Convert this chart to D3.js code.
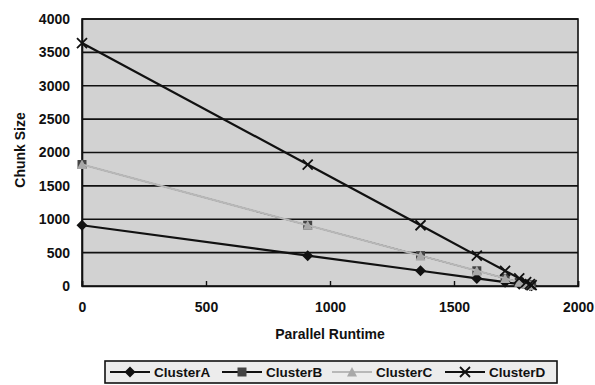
<!DOCTYPE html>
<html>
<head>
<meta charset="utf-8">
<script src="https://cdn.jsdelivr.net/npm/d3@7/dist/d3.min.js"></script>
<style>
  html, body { margin: 0; padding: 0; background: #fff; }
  svg { display: block; font-family: "Liberation Sans", Arial, sans-serif; }
</style>
</head>
<body>
<svg id="chart" width="595" height="385"></svg>
<script>
// Parallel runtime at each step (shared by all clusters)
const runtime = [0, 910, 1365, 1592, 1706, 1763, 1791, 1806, 1813];
// Chunk size per cluster
const clusterA = [910, 455, 228, 114, 57, 28, 14, 7, 4];
const clusterB = [1820, 910, 455, 228, 114, 57, 28, 14, 7];
const clusterC = [1820, 910, 455, 228, 114, 57, 28, 14, 7];
const clusterD = [3640, 1820, 910, 455, 228, 114, 57, 28, 14];
const seriesNames = ["ClusterA", "ClusterB", "ClusterC", "ClusterD"];
const xTicks = [0, 500, 1000, 1500, 2000];
const yTicks = [0, 500, 1000, 1500, 2000, 2500, 3000, 3500, 4000];

const svg = d3.select("#chart");
const m = { left: 82, right: 578, top: 19, bottom: 286 };
const ink = "#111";

const x = d3.scaleLinear().domain([0, 2000]).range([m.left, m.right]);
const y = d3.scaleLinear().domain([0, 4000]).range([m.bottom, m.top]);

// plot area
svg.append("rect")
  .attr("x", m.left).attr("y", m.top)
  .attr("width", m.right - m.left).attr("height", m.bottom - m.top)
  .attr("fill", "#d2d2d2");

// horizontal gridlines
svg.append("g").selectAll("line").data(yTicks.slice(1)).join("line")
  .attr("x1", m.left).attr("x2", m.right)
  .attr("y1", d => y(d)).attr("y2", d => y(d))
  .attr("stroke", ink).attr("stroke-width", 1.6);

// plot border
svg.append("rect")
  .attr("x", m.left).attr("y", m.top)
  .attr("width", m.right - m.left).attr("height", m.bottom - m.top)
  .attr("fill", "none").attr("stroke", ink).attr("stroke-width", 1.6);

// axes
const xAxis = svg.append("g").attr("transform", `translate(0,${m.bottom})`)
  .call(d3.axisBottom(x).tickValues(xTicks).tickSize(-5).tickPadding(16).tickFormat(d3.format("d")));
const yAxis = svg.append("g").attr("transform", `translate(${m.left},0)`)
  .call(d3.axisLeft(y).tickValues(yTicks).tickSize(0).tickPadding(12).tickFormat(d3.format("d")));
[xAxis, yAxis].forEach(a => {
  a.select(".domain").attr("stroke", ink).attr("stroke-width", 1.6);
  a.selectAll(".tick line").attr("stroke", ink).attr("stroke-width", 1.4);
  a.selectAll("text").attr("fill", ink).attr("font-size", 14).attr("font-weight", "bold")
    .attr("font-family", "Liberation Sans, Arial, sans-serif");
});

// axis titles
svg.append("text").attr("x", 330).attr("y", 339).attr("text-anchor", "middle")
  .attr("font-size", 14).attr("font-weight", "bold").attr("fill", ink).text("Parallel Runtime");
svg.append("text").attr("transform", "translate(25,150) rotate(-90)").attr("text-anchor", "middle")
  .attr("font-size", 14).attr("font-weight", "bold").attr("fill", ink).text("Chunk Size");

const series = [
  { name: seriesNames[0], values: clusterA, color: ink, width: 2.2, marker: "diamond", mcolor: ink },
  { name: seriesNames[1], values: clusterB, color: ink, width: 1.2, marker: "square", mcolor: "#444" },
  { name: seriesNames[2], values: clusterC, color: "#b8b8b8", width: 2.0, marker: "triangle", mcolor: "#a8a8a8" },
  { name: seriesNames[3], values: clusterD, color: ink, width: 2.2, marker: "cross", mcolor: ink }
];

const line = d3.line().x(d => x(d[0])).y(d => y(d[1]));

function drawMarker(g, type, cx, cy, color) {
  const t = `translate(${cx},${cy})`;
  if (type === "diamond") {
    g.append("path").attr("d", "M0,-5.5L5.5,0L0,5.5L-5.5,0Z").attr("transform", t).attr("fill", color);
  } else if (type === "square") {
    g.append("path").attr("d", "M-4.5,-4.5H4.5V4.5H-4.5Z").attr("transform", t).attr("fill", color);
  } else if (type === "triangle") {
    g.append("path").attr("d", "M0,-5L5,4.5H-5Z").attr("transform", t).attr("fill", color);
  } else {
    g.append("path").attr("d", "M-5,-5L5,5M-5,5L5,-5")
      .attr("transform", t).attr("stroke", color).attr("stroke-width", 1.8).attr("fill", "none");
  }
}

series.forEach(s => {
  const pts = runtime.map((r, i) => [r, s.values[i]]);
  const g = svg.append("g");
  g.append("path").datum(pts).attr("d", line)
    .attr("fill", "none").attr("stroke", s.color).attr("stroke-width", s.width);
  pts.forEach(p => drawMarker(g, s.marker, x(p[0]), y(p[1]), s.mcolor));
});

// legend
const lg = svg.append("g");
lg.append("rect").attr("x", 105).attr("y", 361).attr("width", 452).attr("height", 22)
  .attr("fill", "#ececec").attr("stroke", ink).attr("stroke-width", 1.6);
const legendX = [110, 222, 332, 445];
series.forEach((s, i) => {
  const lx = legendX[i], ly = 372;
  lg.append("line").attr("x1", lx).attr("x2", lx + 40).attr("y1", ly).attr("y2", ly)
    .attr("stroke", s.color).attr("stroke-width", Math.max(s.width, 1.8));
  drawMarker(lg, s.marker, lx + 20, ly, s.mcolor);
  lg.append("text").attr("x", lx + 44).attr("y", ly + 5).attr("font-size", 13.5).attr("font-weight", "bold")
    .attr("fill", ink).text(s.name);
});
</script>
</body>
</html>
